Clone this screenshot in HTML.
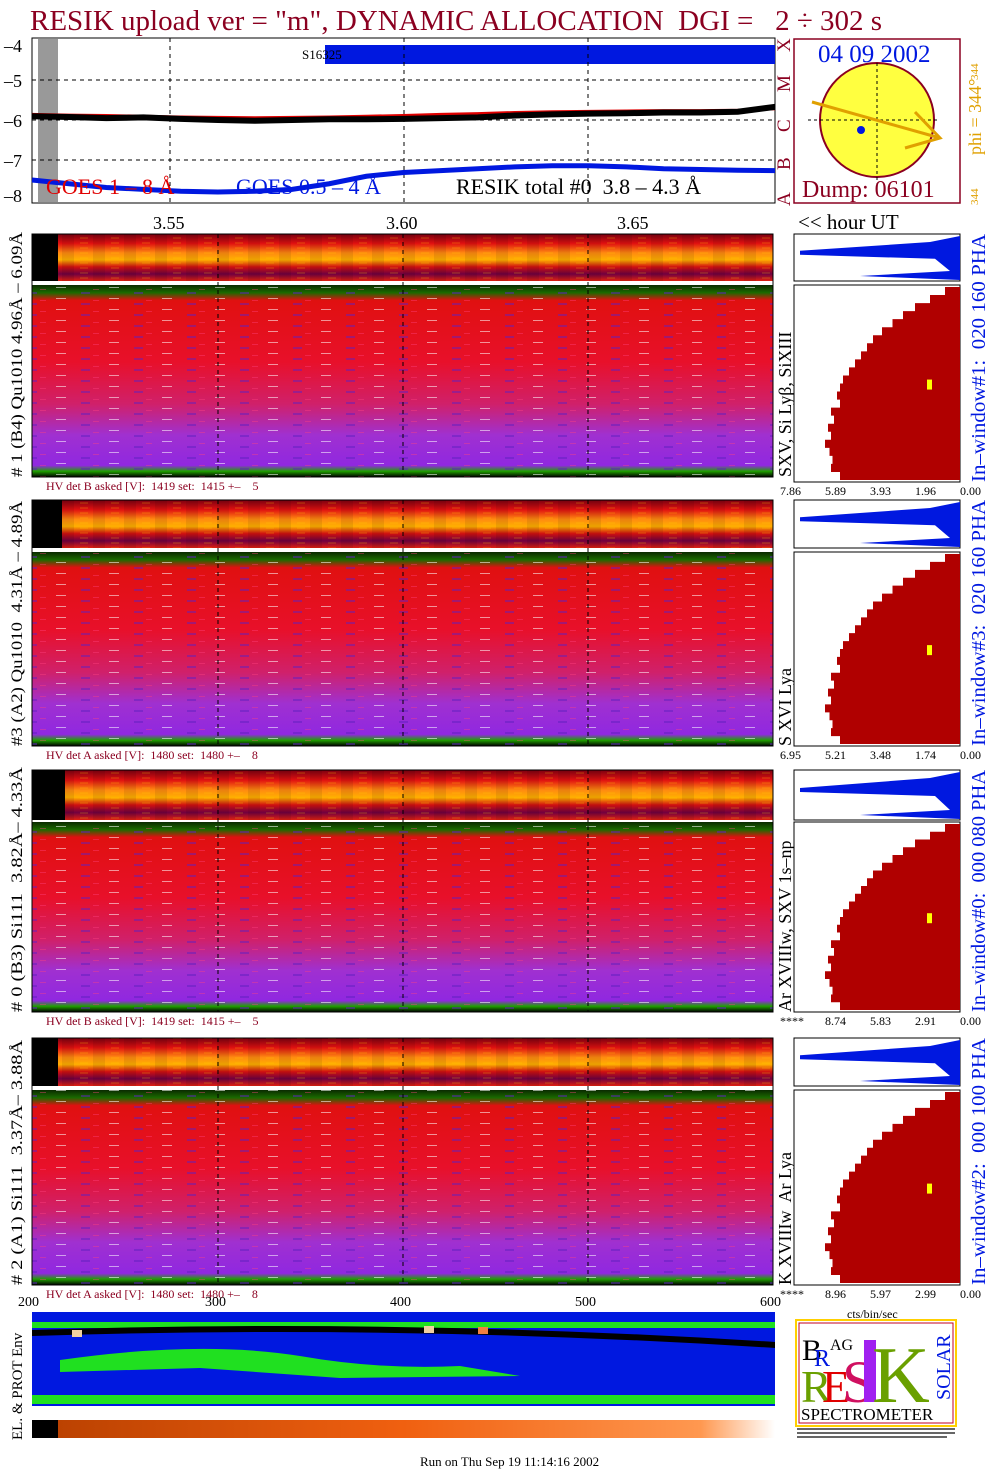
<!DOCTYPE html>
<html><head><meta charset="utf-8"><style>
html,body{margin:0;padding:0;background:#fff}
svg{display:block;font-family:"Liberation Serif",serif}
text{white-space:pre}
</style></head><body>
<svg id="s" width="1004" height="1476" viewBox="0 0 1004 1476" xmlns="http://www.w3.org/2000/svg">
<defs>
<linearGradient id="bigG" x1="0" y1="0" x2="0" y2="1">
<stop offset="0" stop-color="#0a2a00"/><stop offset="0.04" stop-color="#1b6a00"/><stop offset="0.08" stop-color="#e01010"/>
<stop offset="0.4" stop-color="#e8102a"/><stop offset="0.62" stop-color="#d0206a"/><stop offset="0.78" stop-color="#a030d0"/>
<stop offset="0.94" stop-color="#9028e0"/><stop offset="0.97" stop-color="#20a000"/><stop offset="1" stop-color="#000"/>
</linearGradient>
<linearGradient id="smG" x1="0" y1="0" x2="0" y2="1">
<stop offset="0" stop-color="#7a0010"/><stop offset="0.2" stop-color="#e01010"/><stop offset="0.4" stop-color="#ff8a10"/>
<stop offset="0.55" stop-color="#ffb000"/><stop offset="0.7" stop-color="#d01010"/><stop offset="0.85" stop-color="#700040"/><stop offset="1" stop-color="#e02010"/>
</linearGradient>
<linearGradient id="envG" x1="0" y1="0" x2="1" y2="0">
<stop offset="0" stop-color="#b84000"/><stop offset="0.5" stop-color="#f06010"/><stop offset="0.9" stop-color="#ff9850"/><stop offset="1" stop-color="#fff"/>
</linearGradient>
<pattern id="streak" width="53" height="11" patternUnits="userSpaceOnUse">
<rect x="3" y="1" width="10" height="1" fill="#fff" opacity="0.55"/><rect x="28" y="6" width="9" height="2" fill="#6020c0" opacity="0.5"/><rect x="40" y="3" width="6" height="1" fill="#ff4080" opacity="0.4"/>
</pattern>
<pattern id="cols" width="31" height="5" patternUnits="userSpaceOnUse">
<rect x="0" y="0" width="12" height="5" fill="#000" opacity="0.08"/><rect x="18" y="2" width="8" height="2" fill="#ffd000" opacity="0.15"/>
</pattern>
</defs>

<text x="30" y="30" font-size="29" fill="#8b0020">RESIK upload ver = "m", DYNAMIC ALLOCATION  DGI =   2 ÷ 302 s</text>

<g>
<rect x="32" y="38" width="743" height="165" fill="#fff" stroke="#000"/>
<rect x="38" y="39" width="20" height="163" fill="#999"/>
<rect x="325" y="45" width="450" height="19" fill="#0018e0"/>
<text x="302" y="59" font-size="13" fill="#000">S16325</text>
<g stroke="#000" stroke-dasharray="4,4" stroke-width="1"><line x1="170" y1="38" x2="170" y2="203"/><line x1="404" y1="38" x2="404" y2="203"/><line x1="588" y1="38" x2="588" y2="203"/>
<line x1="32" y1="80" x2="775" y2="80"/><line x1="32" y1="120" x2="775" y2="120"/><line x1="32" y1="160" x2="775" y2="160"/></g>
<g id="topLines"></g>
<g font-size="18" fill="#000"><text x="4" y="52">–4</text><text x="4" y="87">–5</text><text x="4" y="127">–6</text><text x="4" y="167">–7</text><text x="4" y="202">–8</text></g>
<text x="46" y="194" font-size="22" fill="#e00000">GOES 1 – 8 Å</text>
<text x="236" y="194" font-size="22" fill="#0018e0">GOES 0.5 – 4 Å</text>
<text x="456" y="194" font-size="22" fill="#000">RESIK total #0  3.8 – 4.3 Å</text>
</g>
<g font-size="18" fill="#000"><text x="153" y="229">3.55</text><text x="386" y="229">3.60</text><text x="617" y="229">3.65</text><text x="798" y="229" font-size="21">&lt;&lt; hour UT</text></g>

<g>
<rect x="794" y="39" width="166" height="164" fill="#fff" stroke="#8b0020" stroke-width="1.5"/>
<g font-size="19" fill="#8b0020" transform="rotate(-90)"><text x="-206" y="790">A</text><text x="-170" y="790">B</text><text x="-132" y="790">C</text><text x="-92" y="790">M</text><text x="-52" y="790">X</text></g>
<circle cx="877" cy="120" r="57" fill="#ffff40" stroke="#8b0020" stroke-width="2"/>
<line x1="877" y1="63" x2="877" y2="190" stroke="#000" stroke-dasharray="3,3"/><line x1="808" y1="120" x2="940" y2="120" stroke="#000" stroke-dasharray="3,3"/>
<circle cx="861" cy="130" r="4" fill="#0018e0"/>
<g stroke="#e0a000" stroke-width="3" fill="none"><line x1="812" y1="102" x2="940" y2="138"/><polyline points="915,112 940,138 905,148"/></g>
<text x="818" y="62" font-size="25" fill="#0018e0">04 09 2002</text>
<text x="802" y="197" font-size="24" fill="#8b0020">Dump: 06101</text>
<g fill="#e0a000" transform="rotate(-90)"><text x="-155" y="981" font-size="18">phi = 344°</text><text x="-80" y="978" font-size="11">344</text><text x="-205" y="978" font-size="11">344</text></g>
</g>

<g id="panels"></g>

<g>
<rect x="32" y="1312" width="743" height="94" fill="#0018e0"/>
<path d="M32 1322 L775 1322 L775 1328 L32 1328 Z" fill="#20e020"/>
<path d="M32 1330 Q400 1318 775 1342 L775 1348 Q400 1324 32 1336Z" fill="#000"/>
<path d="M60 1360 Q200 1340 300 1356 Q380 1370 460 1366 L520 1376 L340 1378 L200 1368 L60 1372Z" fill="#20e020"/>
<path d="M32 1395 L775 1395 L775 1404 L32 1404Z" fill="#20e020"/>
<rect x="72" y="1330" width="10" height="7" fill="#f0d0a0"/><rect x="424" y="1326" width="10" height="7" fill="#f0d0a0"/><rect x="478" y="1327" width="10" height="7" fill="#f08040"/>
<rect x="32" y="1420" width="743" height="18" fill="url(#envG)"/><rect x="32" y="1420" width="26" height="18" fill="#000"/>
<text transform="translate(22,1440) rotate(-90)" font-size="15" fill="#000">EL. &amp; PROT Env</text>
</g>
<g font-size="14" fill="#000"><text x="18" y="1306">200</text><text x="205" y="1306">300</text><text x="390" y="1306">400</text><text x="575" y="1306">500</text><text x="760" y="1306">600</text></g>

<g>
<rect x="796" y="1320" width="160" height="106" fill="#fff" stroke="#ffd000" stroke-width="2"/><rect x="799" y="1323" width="154" height="100" fill="none" stroke="#c00020"/>
<text x="801" y="1402" font-size="46" fill="#6aa000">R</text><text x="822" y="1402" font-size="46" fill="#e00000">E</text><text x="842" y="1402" font-size="60" fill="#d01060">S</text>
<rect x="864" y="1340" width="12" height="62" fill="#a020f0"/><text x="872" y="1402" font-size="80" fill="#6aa000">K</text>
<text x="802" y="1360" font-size="30" fill="#000">B</text><text x="814" y="1366" font-size="24" fill="#0018e0">R</text><text x="830" y="1350" font-size="16" fill="#000">AG</text>
<text transform="translate(950,1400) rotate(-90)" font-size="20" fill="#0018e0">SOLAR</text>
<text x="801" y="1420" font-size="17" fill="#000">SPECTROMETER</text>
<rect x="797" y="1428" width="158" height="2" fill="#000" opacity="0.6"/><rect x="797" y="1432" width="158" height="2" fill="#000" opacity="0.6"/><rect x="797" y="1436" width="150" height="2" fill="#000" opacity="0.6"/>
</g>
<text x="420" y="1466" font-size="13" fill="#000">Run on Thu Sep 19 11:14:16 2002</text>
</svg>
<script>
const NS="http://www.w3.org/2000/svg";
const svg=document.getElementById('s');
function el(t,a,p){const e=document.createElementNS(NS,t);for(const k in a)e.setAttribute(k,a[k]);(p||svg).appendChild(e);return e;}

const topTimes=[0,0.05,0.1,0.15,0.2,0.25,0.3,0.35,0.4,0.45,0.5,0.55,0.6,0.65,0.7,0.75,0.8,0.85,0.9,0.95,1];
const resikLog=[-5.9,-5.92,-5.95,-5.93,-5.97,-6.0,-6.02,-6.0,-5.98,-5.98,-5.97,-5.95,-5.93,-5.88,-5.85,-5.83,-5.82,-5.8,-5.8,-5.78,-5.65];
const goesLongLog=[-5.85,-5.87,-5.88,-5.9,-5.92,-5.93,-5.94,-5.93,-5.92,-5.9,-5.88,-5.85,-5.83,-5.8,-5.78,-5.77,-5.76,-5.75,-5.75,-5.74,-5.7];
const goesShortLog=[-7.6,-7.7,-7.8,-7.85,-7.9,-7.92,-7.9,-7.85,-7.7,-7.5,-7.4,-7.35,-7.3,-7.25,-7.22,-7.22,-7.25,-7.3,-7.32,-7.34,-7.35];
const tx=t=>32+t*743, ty=v=>45+(-4-v)*37.5;
const tg=document.getElementById('topLines');
function line(vals,col,w,name){const p=el('polyline',{points:vals.map((v,i)=>tx(topTimes[i])+','+ty(v)).join(' '),fill:'none',stroke:col,'stroke-width':w},tg);

}
line(goesLongLog,'#e00000',3,'goes-long-line');
line(resikLog,'#000',6,'resik-total-line');
line(goesShortLog,'#0018e0',5,'goes-short-line');

const panelTops=[234,500,770,1038];
const smallH=[47,48,50,48], bigTop=[285,552,822,1090], bigBot=[477,746,1012,1285];
const hvText=["HV det B asked [V]:  1419 set:  1415 +–    5","HV det A asked [V]:  1480 set:  1480 +–    8","HV det B asked [V]:  1419 set:  1415 +–    5","HV det A asked [V]:  1480 set:  1480 +–    8"];
const leftLabels=["# 1 (B4) Qu1010 4.96Å – 6.09Å","#3 (A2) Qu1010  4.31Å – 4.89Å","# 0 (B3) Si111  3.82Å– 4.33Å","# 2 (A1) Si111  3.37Å– 3.88Å"];
const lineLabels=["SXV, Si Lyβ, SiXIII","S XVI Lya","Ar XVIIIw, SXV 1s–np","K XVIIIw  Ar Lya"];
const winLabels=["In–window#1:  020 160 PHA","In–window#3:  020 160 PHA","In–window#0:  000 080 PHA","In–window#2:  000 100 PHA"];
const histTicks=[["7.86","5.89","3.93","1.96","0.00"],["6.95","5.21","3.48","1.74","0.00"],["****","8.74","5.83","2.91","0.00"],["****","8.96","5.97","2.99","0.00"]];
const histShape=[0.1,0.2,0.3,0.38,0.45,0.52,0.58,0.62,0.66,0.7,0.74,0.78,0.8,0.82,0.8,0.86,0.84,0.88,0.86,0.9,0.87,0.85,0.86,0.8];
const leftLen=[245,245,245,245], winOff=[0,0,0,0];
const pg=document.getElementById('panels');
for(let i=0;i<4;i++){
 const g=el('g',{},pg);
 
 
 const st=panelTops[i], sh=smallH[i], bt=bigTop[i], bb=bigBot[i];
 el('rect',{x:32,y:st,width:741,height:sh,fill:'url(#smG)'},g);
 el('rect',{x:32,y:st,width:741,height:sh,fill:'url(#cols)'},g);
 el('rect',{x:32,y:st,width:i==1?30:(i==2?33:26),height:sh,fill:'#000'},g);
 el('rect',{x:32,y:bt,width:741,height:bb-bt,fill:'url(#bigG)'},g);
 el('rect',{x:32,y:bt,width:741,height:bb-bt,fill:'url(#streak)'},g);
 el('rect',{x:32,y:st,width:741,height:bb-st,fill:'none',stroke:'#000'},g);
 for(const x of [218,403,588]) el('line',{x1:x,y1:st,x2:x,y2:bb,stroke:'#000','stroke-dasharray':'4,4'},g);
 const t=el('text',{x:46,y:bb+13,'font-size':12,fill:'#8b0020'},g);t.textContent=hvText[i];
 const l=el('text',{transform:`translate(22,${bb}) rotate(-90)`,'font-size':16,fill:'#000',textLength:leftLen[i],lengthAdjust:'spacingAndGlyphs'},g);l.textContent=leftLabels[i];
 const ll=el('text',{transform:`translate(791,${bb}) rotate(-90)`,'font-size':18,fill:'#000'},g);ll.textContent=lineLabels[i];
 const hb=i==0?482:bb;
 const wl=el('text',{transform:`translate(985,${hb}) rotate(-90)`,'font-size':20,fill:'#0018e0',textLength:hb-st,lengthAdjust:'spacingAndGlyphs'},g);wl.textContent=winLabels[i];
 el('rect',{x:794,y:st,width:166,height:sh,fill:'#fff',stroke:'#000'},g);
 const mid=st+sh*0.4;
 el('polygon',{points:`960,${st+2} 930,${st+8} 800,${mid-2} 800,${mid+2} 935,${mid+6} 950,${st+sh-10} 860,${st+sh-5} 960,${st+sh-1}`,fill:'#0018e0'},g);
 el('rect',{x:794,y:bt,width:166,height:hb-bt,fill:'#fff',stroke:'#000'},g);
 let pts=[`960,${bt+2}`];const n=histShape.length,hh=(hb-bt-4)/n;
 histShape.forEach((f,k)=>{const x=960-f*150;pts.push(`${x},${bt+2+k*hh}`,`${x},${bt+2+(k+1)*hh}`);});
 pts.push(`960,${hb-2}`);
 el('polygon',{points:pts.join(' '),fill:'#b00000'},g);
 el('rect',{x:927,y:bt+(hb-bt)*0.48,width:5,height:10,fill:'#ffff00'},g);
 histTicks[i].forEach((s,k)=>{const tt=el('text',{x:780+k*45,y:hb+13,'font-size':12,fill:'#000'},g);tt.textContent=s;});
}
const cb=el('text',{x:847,y:1318,'font-size':12,fill:'#000'});cb.textContent='cts/bin/sec';
</script>
</body></html>
